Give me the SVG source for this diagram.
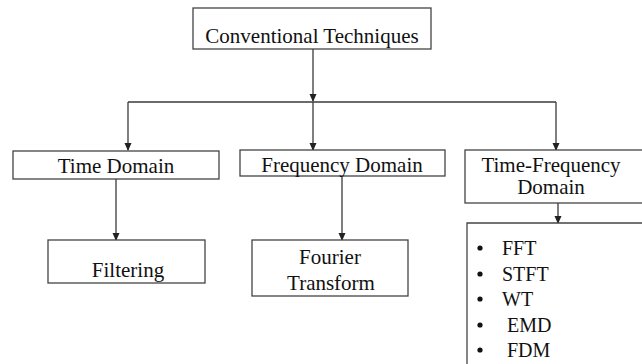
<svg xmlns="http://www.w3.org/2000/svg" width="642" height="364" viewBox="0 0 642 364">
  <defs>
    <marker id="tip" markerUnits="userSpaceOnUse" markerWidth="8" markerHeight="9" refX="8" refY="4" orient="auto" viewBox="0 0 9 8">
      <path d="M0,0 L9,4 L0,8 Z" fill="#222222"/>
    </marker>
  </defs>

  <rect width="642" height="364" fill="#ffffff"/>

  <!-- connectors -->
  <g id="connectors" fill="none" stroke="#3a3a3a" stroke-width="1.3">
    <path d="M313,49 V101" marker-end="url(#tip)"/>
    <path d="M128,102 H556"/>
    <path d="M128,102 V150" marker-end="url(#tip)"/>
    <path d="M313,102 V150" marker-end="url(#tip)"/>
    <path d="M556,102 V150" marker-end="url(#tip)"/>
    <path d="M116,179 V240" marker-end="url(#tip)"/>
    <path d="M342,176 V240" marker-end="url(#tip)"/>
    <path d="M558,203 V223" marker-end="url(#tip)"/>
  </g>

  <!-- root -->
  <g id="conventional">
    <rect x="193" y="8" width="238" height="41" fill="#ffffff" stroke="#444444" stroke-width="1.3"/>
    <text x="312" y="43" font-family="Liberation Serif" font-size="21" fill="#111111" text-anchor="middle">Conventional Techniques</text>
  </g>

  <g id="time-domain">
    <rect x="13" y="151" width="206" height="28" fill="#ffffff" stroke="#444444" stroke-width="1.3"/>
    <text x="116" y="173" font-family="Liberation Serif" font-size="21" fill="#111111" text-anchor="middle">Time Domain</text>
  </g>

  <g id="frequency-domain">
    <rect x="240" y="150" width="205" height="26" fill="#ffffff" stroke="#444444" stroke-width="1.3"/>
    <text x="342" y="172" font-family="Liberation Serif" font-size="21" fill="#111111" text-anchor="middle">Frequency Domain</text>
  </g>

  <g id="time-frequency-domain">
    <rect x="465" y="150" width="180" height="53" fill="#ffffff" stroke="#444444" stroke-width="1.3"/>
    <text x="551" y="172" font-family="Liberation Serif" font-size="21" fill="#111111" text-anchor="middle">Time-Frequency</text>
    <text x="551" y="194" font-family="Liberation Serif" font-size="21" fill="#111111" text-anchor="middle">Domain</text>
  </g>

  <g id="filtering">
    <rect x="48" y="240" width="157" height="43" fill="#ffffff" stroke="#444444" stroke-width="1.3"/>
    <text x="128" y="277" font-family="Liberation Serif" font-size="21" fill="#111111" text-anchor="middle">Filtering</text>
  </g>

  <g id="fourier-transform">
    <rect x="252" y="240" width="156" height="56" fill="#ffffff" stroke="#444444" stroke-width="1.3"/>
    <text x="330" y="264" font-family="Liberation Serif" font-size="21" fill="#111111" text-anchor="middle">Fourier</text>
    <text x="331" y="290" font-family="Liberation Serif" font-size="21" fill="#111111" text-anchor="middle">Transform</text>
  </g>

  <g id="methods">
    <path d="M645,223 H467 V367" fill="#ffffff" stroke="#444444" stroke-width="1.3"/>
    <g fill="#111111">
      <circle cx="480" cy="248" r="2.6"/>
      <circle cx="480" cy="274" r="2.6"/>
      <circle cx="480" cy="299" r="2.6"/>
      <circle cx="480" cy="325" r="2.6"/>
      <circle cx="480" cy="350" r="2.6"/>
    </g>
    <text x="502" y="255" font-family="Liberation Serif" font-size="20" fill="#111111">FFT</text>
    <text x="502" y="281" font-family="Liberation Serif" font-size="20" fill="#111111">STFT</text>
    <text x="502" y="306" font-family="Liberation Serif" font-size="20" fill="#111111">WT</text>
    <text x="507" y="332" font-family="Liberation Serif" font-size="20" fill="#111111">EMD</text>
    <text x="507" y="357" font-family="Liberation Serif" font-size="20" fill="#111111">FDM</text>
  </g>
</svg>
